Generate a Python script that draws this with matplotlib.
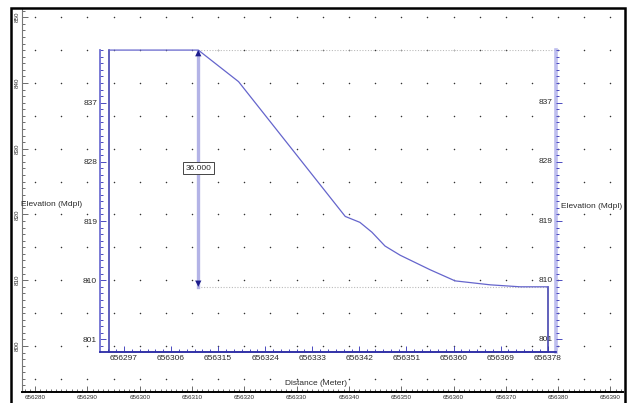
import matplotlib.pyplot as plt
import numpy as np
from matplotlib.patches import Rectangle

plt.rcParams["font.family"] = ["Liberation Sans Narrow", "Liberation Sans", "DejaVu Sans"]

# terrain profile: easting (m) and elevation (m asl)
dist = [656294.2, 656311.2, 656318.9, 656338.8, 656339.3, 656342.1, 656344.4,
        656346.9, 656349.8, 656355.5, 656360.3, 656367.0, 656372.7, 656378.1]
elev = [845.0, 845.0, 840.2, 820.2, 819.7, 818.8, 817.3,
        815.2, 813.8, 811.6, 809.9, 809.3, 809.0, 809.0]

# profile axis ticks
prof_xticks = [656297, 656306, 656315, 656324, 656333, 656342, 656351, 656360, 656369, 656378]
prof_yticks = [801, 810, 819, 828, 837]

# map frame ticks
map_xticks = list(range(656280, 656391, 10))
map_yticks = list(range(800, 851, 10))

map_xlim = (656277.5, 656392.4)
map_ylim = (793.0, 851.4)
prof_xlim = (656292.4, 656379.6)
prof_ylim = (799.1, 845.0)

tick_grey = "#555555"
label_grey = "#2a2a2a"
navy = "#1c1c8c"

fig = plt.figure(figsize=(6.27, 4.03), dpi=100)

# outer black frame
fig.patches.append(Rectangle((10.5 / 627, -0.02), 614 / 627, (403 - 8) / 403 + 0.02,
                             transform=fig.transFigure, fill=False,
                             ec="black", lw=1.8, zorder=10))

ax = fig.add_axes([22 / 627, 11 / 403, 601 / 627, 384 / 403])
ax.set_xlim(map_xlim)
ax.set_ylim(map_ylim)
for s in ("top", "right"):
    ax.spines[s].set_visible(False)
ax.spines["left"].set_color("#777777")
ax.spines["left"].set_linewidth(0.8)
ax.spines["bottom"].set_color("black")
ax.spines["bottom"].set_linewidth(1.4)

ax.set_xticks(map_xticks, [str(v) for v in map_xticks])
ax.set_yticks(map_yticks, [str(v) for v in map_yticks])
ax.set_xticks(np.arange(656278, 656393, 1), minor=True)
ax.set_yticks(np.arange(794, 852, 1), minor=True)
ax.tick_params(which="both", direction="in", color=tick_grey, width=0.6,
               labelcolor=label_grey)
ax.tick_params(which="major", length=4)
ax.tick_params(which="minor", length=2)
ax.tick_params(axis="x", labelsize=4.5, pad=2.5)
ax.tick_params(axis="y", labelsize=4.5, pad=1.5, labelrotation=90)
for t in ax.get_yticklabels():
    t.set_va("center")

# dot grid every 5 m
gx, gy = np.meshgrid(np.arange(656280, 656391, 5), np.arange(795, 851, 5))
ax.scatter(gx.ravel(), gy.ravel(), s=1.2, color="#333333", lw=0, zorder=1)

ax.text(0.05, 0.487, "Elevation (Mdpl)", transform=ax.transAxes, ha="center",
        va="center", fontsize=6, color=label_grey)
ax.text(0.948, 0.482, "Elevation (Mdpl)", transform=ax.transAxes, ha="center",
        va="center", fontsize=6, color=label_grey)
ax.text(0.489, 0.021, "Distance (Meter)", transform=ax.transAxes, ha="center",
        va="center", fontsize=6, color=label_grey)

# profile axes placed on the same coordinates as the frame
p = ax.transData.transform([(prof_xlim[0], prof_ylim[0]), (prof_xlim[1], prof_ylim[1])])
(fx0, fy0), (fx1, fy1) = fig.transFigure.inverted().transform(p)
ax2 = fig.add_axes([fx0, fy0, fx1 - fx0, fy1 - fy0])
ax2.set_xlim(prof_xlim)
ax2.set_ylim(prof_ylim)
ax2.patch.set_alpha(0)
ax2.spines["top"].set_visible(False)
ax2.spines["left"].set_color("#6f6fd2")
ax2.spines["left"].set_linewidth(1.3)
ax2.spines["bottom"].set_color("#2b2ba6")
ax2.spines["bottom"].set_linewidth(1.3)
ax2.spines["right"].set_color("#bdbdee")
ax2.spines["right"].set_linewidth(2.6)

ax2.set_xticks(prof_xticks, [str(v) for v in prof_xticks])
ax2.set_yticks(prof_yticks, [str(v) for v in prof_yticks])
ax2.set_xticks(np.arange(prof_xticks[0] - 3, prof_xlim[1], 1.5), minor=True)
ax2.set_yticks(np.arange(800, 846, 1), minor=True)
ax2.tick_params(which="both", direction="in", color="#4a4ac0", width=0.7,
                labelcolor=label_grey, labelsize=6, pad=2)
ax2.tick_params(which="major", length=4)
ax2.tick_params(which="minor", length=2.2)

# right elevation scale: ticks outside, labels inside
ax3 = ax2.twinx()
ax3.set_ylim(prof_ylim)
for s in ("top", "left", "bottom", "right"):
    ax3.spines[s].set_visible(False)
ax3.set_yticks(prof_yticks, [""] * len(prof_yticks))
ax3.set_yticks(np.arange(800, 846, 1), minor=True)
ax3.tick_params(which="both", direction="out", color="#4a4ac0", width=0.7)
ax3.tick_params(which="major", length=4)
ax3.tick_params(which="minor", length=2.2)
for v in prof_yticks:
    ax2.annotate(str(v), xy=(1, v), xycoords=("axes fraction", "data"),
                 xytext=(-2.5, 0), textcoords="offset points", ha="right",
                 va="center", fontsize=6, color=label_grey)

# section outline and ground surface
ax2.plot([dist[-1], dist[-1], dist[0], dist[0]],
         [elev[-1], prof_ylim[0], prof_ylim[0], elev[0]],
         color="#3535a8", lw=1.1, clip_on=False, zorder=3)
ax2.plot(dist, elev, color="#6565cc", lw=0.9, clip_on=False, zorder=3)

# height difference dimension
top = max(elev)
drop = top - elev[-1]
xd = dist[1]
ax2.plot([xd, prof_xlim[1]], [top, top], ls=(0, (1, 1.5)), color="#bbbbbb", lw=0.8, zorder=2)
ax2.plot([xd, dist[-1]], [elev[-1], elev[-1]], ls=(0, (1, 1.5)), color="#bbbbbb", lw=0.8, zorder=2)
ax2.plot([xd, xd], [top, elev[-1]], color="#b3b3e6", lw=2.4, zorder=2)
for ya, yb in ((top, top - 5), (elev[-1], elev[-1] + 5)):
    ax2.annotate("", xy=(xd, ya), xytext=(xd, yb),
                 arrowprops=dict(arrowstyle="-|>,head_length=0.5,head_width=0.25",
                                 mutation_scale=9, color=navy,
                                 lw=0, shrinkA=0, shrinkB=0), zorder=4)
ax2.text(xd, (top + elev[-1]) / 2, f"{drop:.3f}", ha="center", va="center",
         fontsize=6, color=label_grey, zorder=5,
         bbox=dict(boxstyle="square,pad=0.3", fc="white", ec="#444444", lw=0.7))

fig.savefig("out.png", dpi=100)
